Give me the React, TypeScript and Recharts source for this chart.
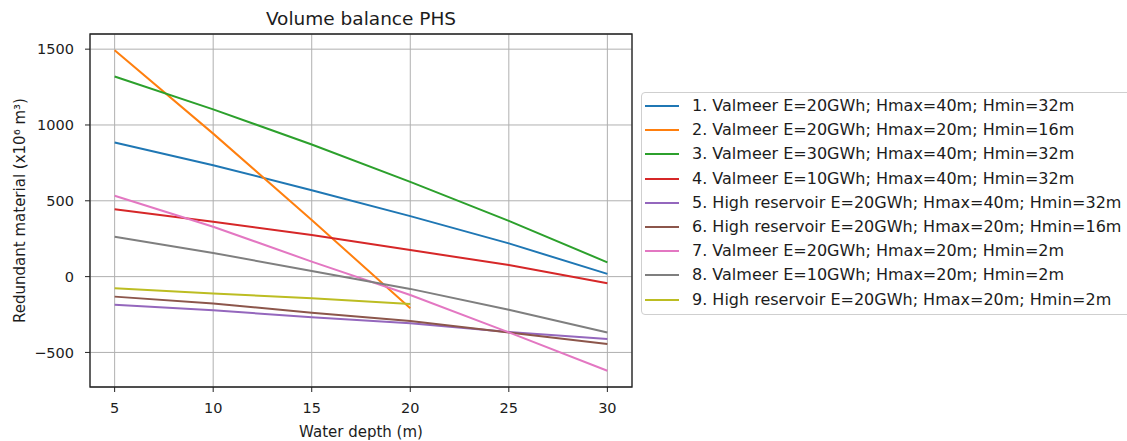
import { LineChart, Line, XAxis, YAxis, CartesianGrid, ReferenceArea, Legend } from 'recharts';

const depths = [5, 10, 15, 20, 25, 30];
const xTicks = [5, 10, 15, 20, 25, 30];
const yTicks = [-500, 0, 500, 1000, 1500];

const valmeer20Hmax40 = [884, 735, 570, 399, 219, 18];
const valmeer20Hmax20 = [1493, 943, 373, -208];
const valmeer30Hmax40 = [1320, 1103, 871, 625, 368, 94];
const valmeer10Hmax40 = [445, 362, 274, 175, 77, -44];
const highRes20Hmax40 = [-186, -222, -268, -307, -366, -412];
const highRes20Hmax20 = [-132, -177, -239, -292, -368, -445];
const valmeer20Hmin2 = [533, 329, 99, -121, -368, -621];
const valmeer10Hmin2 = [263, 156, 37, -81, -219, -368];
const highRes20Hmin2 = [-77, -111, -143, -181];

const seriesNames = [
  '1. Valmeer E=20GWh; Hmax=40m; Hmin=32m',
  '2. Valmeer E=20GWh; Hmax=20m; Hmin=16m',
  '3. Valmeer E=30GWh; Hmax=40m; Hmin=32m',
  '4. Valmeer E=10GWh; Hmax=40m; Hmin=32m',
  '5. High reservoir E=20GWh; Hmax=40m; Hmin=32m',
  '6. High reservoir E=20GWh; Hmax=20m; Hmin=16m',
  '7. Valmeer E=20GWh; Hmax=20m; Hmin=2m',
  '8. Valmeer E=10GWh; Hmax=20m; Hmin=2m',
  '9. High reservoir E=20GWh; Hmax=20m; Hmin=2m',
];

const seriesValues = [
  valmeer20Hmax40,
  valmeer20Hmax20,
  valmeer30Hmax40,
  valmeer10Hmax40,
  highRes20Hmax40,
  highRes20Hmax20,
  valmeer20Hmin2,
  valmeer10Hmin2,
  highRes20Hmin2,
];

const colors = [
  '#1f77b4',
  '#ff7f0e',
  '#2ca02c',
  '#d62728',
  '#9467bd',
  '#8c564b',
  '#e377c2',
  '#7f7f7f',
  '#bcbd22',
];

const chartData = depths.map((depth, i) => {
  const row: Record<string, number | undefined> = { depth };
  seriesValues.forEach((values, s) => {
    row[`s${s}`] = values[i];
  });
  return row;
});

const FONT = '"DejaVu Sans", sans-serif';
const TEXT = '#1c1c1c';

function LegendBox() {
  return (
    <div
      style={{
        position: 'relative',
        width: 520,
        height: 223,
        boxSizing: 'border-box',
        border: '1px solid #cfcfcf',
        borderRadius: 4,
        background: '#fff',
        fontFamily: FONT,
        fontSize: 16,
        color: TEXT,
      }}
    >
      {seriesNames.map((name, i) => {
        // row centre, relative to the box
        const mid = Math.round(13 + 24.2 * i);
        return (
          <div
            key={name}
            style={{
              position: 'absolute',
              left: 3,
              top: mid - 10,
              height: 20,
              display: 'flex',
              alignItems: 'center',
              whiteSpace: 'nowrap',
            }}
          >
            <span
              style={{ display: 'inline-block', width: 34, height: 2, background: colors[i], marginRight: 13 }}
            />
            <span style={{ lineHeight: '20px' }}>{name}</span>
          </div>
        );
      })}
    </div>
  );
}

export default function App() {
  return (
    <div
      style={{
        position: 'absolute',
        left: 0,
        top: 0,
        width: 1127,
        height: 441,
        overflow: 'hidden',
        background: '#fff',
      }}
    >
      <div
        style={{
          position: 'absolute',
          left: 161,
          width: 400,
          top: 9,
          textAlign: 'center',
          fontFamily: FONT,
          fontSize: 18.5,
          lineHeight: '20px',
          color: TEXT,
          zIndex: 2,
        }}
      >
        Volume balance PHS
      </div>
      <LineChart width={1127} height={441} data={chartData} margin={{ top: 34, right: 495, bottom: 0, left: 0 }}>
        <CartesianGrid stroke="#b0b0b0" strokeWidth={1} />
        <XAxis
          dataKey="depth"
          type="number"
          domain={[3.75, 31.25]}
          ticks={xTicks}
          allowDataOverflow
          height={54}
          axisLine={false}
          tickSize={5}
          tickMargin={11}
          tickLine={{ stroke: '#222' }}
          tick={{ fontSize: 14.5, fill: TEXT, fontFamily: FONT }}
          label={{
            value: 'Water depth (m)',
            position: 'insideBottom',
            offset: 4,
            style: { fontSize: 15, fill: TEXT, fontFamily: FONT },
          }}
        />
        <YAxis
          type="number"
          domain={[-728, 1600]}
          ticks={yTicks}
          allowDataOverflow
          width={90}
          axisLine={false}
          tickSize={5}
          tickMargin={11}
          tickLine={{ stroke: '#222' }}
          tickFormatter={(v: number) => (v < 0 ? `\u2212${Math.abs(v)}` : `${v}`)}
          tick={{ fontSize: 14.5, fill: TEXT, fontFamily: FONT }}
          label={{
            value: 'Redundant material (x10\u2076 m\u00b3)',
            angle: -90,
            position: 'insideLeft',
            offset: 20,
            style: { fontSize: 15, fill: TEXT, fontFamily: FONT, textAnchor: 'middle' },
          }}
        />
        {seriesValues.map((_, s) => (
          <Line
            key={s}
            dataKey={`s${s}`}
            name={seriesNames[s]}
            stroke={colors[s]}
            strokeWidth={2}
            dot={false}
            type="linear"
            isAnimationActive={false}
          />
        ))}
        <ReferenceArea
          x1={3.75}
          x2={31.25}
          y1={-728}
          y2={1600}
          fill="none"
          stroke="#222"
          strokeWidth={1.3}
          ifOverflow="visible"
        />
        <Legend
          layout="vertical"
          align="center"
          verticalAlign="middle"
          wrapperStyle={{ left: 641, top: 92, width: 520 }}
          content={() => <LegendBox />}
        />
      </LineChart>
    </div>
  );
}
